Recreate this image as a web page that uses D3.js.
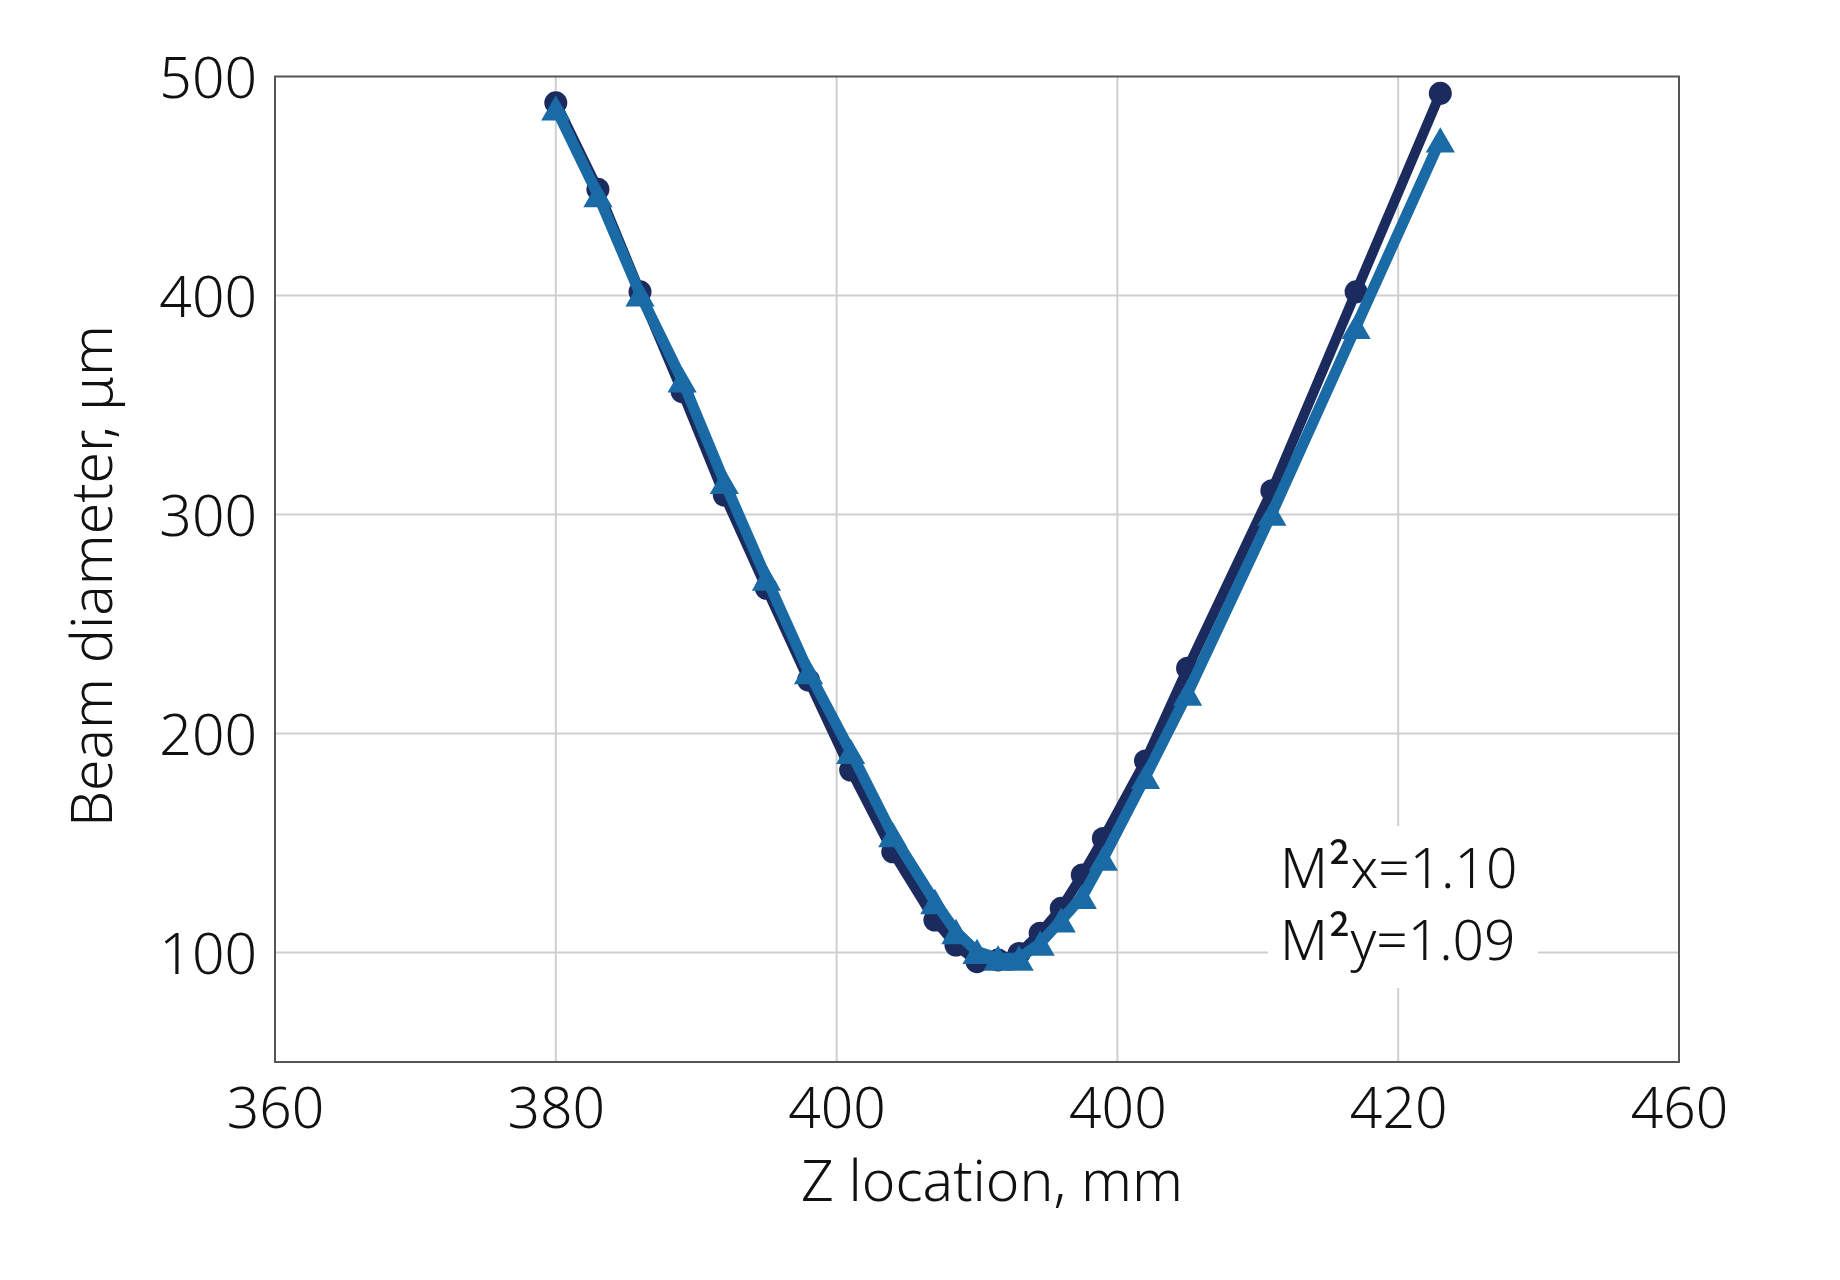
<!DOCTYPE html>
<html lang="en">
    <head>
        <meta charset="UTF-8" />
        <title>Beam diameter vs Z location</title>
        <script src="https://d3js.org/d3.v7.min.js"></script>
        <style>
            body {
                margin: 0;
                background: #fff;
            }
            text {
                font-family: "Noto Sans", "Open Sans", sans-serif;
                font-weight: 300;
                fill: #111;
            }
            .sup {
                font-family: "Noto Sans CJK SC", sans-serif;
                font-weight: 400;
            }
            .grid line {
                stroke: #cfcfcf;
                stroke-width: 2px;
            }
        </style>
    </head>
    <body>
        <svg width="1840" height="1280"></svg>

        <script>
            const width = 1840,
                height = 1280;

            // measured positions along the beam axis (mm)
            const zValues = [
                380, 383, 386, 389, 392, 395, 398, 401, 404, 407, 408.5, 410,
                411.5, 413, 414.5, 416, 417.5, 419, 422, 425, 431, 437, 443,
            ];

            // beam diameter in x (circles) and y (triangles), µm
            const diamX = [
                488.0, 448.5, 401.7, 356.1, 308.9, 266.3, 224.4, 183.3, 146.0,
                114.8, 103.4, 95.8, 96.6, 99.6, 108.8, 120.2, 135.4, 152.1,
                187.5, 229.8, 310.9, 401.7, 492.3,
            ];
            const diamY = [
                485.6, 446.0, 400.7, 361.4, 315.0, 270.9, 228.2, 191.7, 153.7,
                123.2, 109.5, 100.4, 97.4, 97.4, 104.2, 114.8, 125.5, 143.0,
                180.3, 218.4, 300.5, 385.8, 471.0,
            ];

            // tick labels as printed on the original chart
            const xTicks = [360, 380, 400, 420, 440, 460];
            const xTickLabels = ["360", "380", "400", "400", "420", "460"];
            const yTicks = [100, 200, 300, 400, 500];

            // M² note, split around the superscript
            const notes = [
                ["M", "²", "x=1.10"],
                ["M", "²", "y=1.09"],
            ];

            const margin = { left: 275, right: 161, top: 76.5, bottom: 218 };
            const plotW = width - margin.left - margin.right,
                plotH = height - margin.top - margin.bottom;

            const x = d3.scaleLinear().domain([360, 460]).range([0, plotW]);
            const y = d3.scaleLinear().domain([50, 500]).range([plotH, 0]);

            const svg = d3.select("svg");
            const g = svg
                .append("g")
                .attr("transform", `translate(${margin.left},${margin.top})`);

            // gridlines
            const grid = g.append("g").attr("class", "grid");
            grid.selectAll("line.v")
                .data(xTicks.slice(1, -1))
                .enter()
                .append("line")
                .attr("class", "v")
                .attr("x1", (d) => x(d))
                .attr("x2", (d) => x(d))
                .attr("y1", 0)
                .attr("y2", plotH);
            grid.selectAll("line.h")
                .data(yTicks.slice(0, -1))
                .enter()
                .append("line")
                .attr("class", "h")
                .attr("x1", 0)
                .attr("x2", plotW)
                .attr("y1", (d) => y(d))
                .attr("y2", (d) => y(d));

            // plot frame
            g.append("rect")
                .attr("width", plotW)
                .attr("height", plotH)
                .attr("fill", "none")
                .attr("stroke", "#555")
                .attr("stroke-width", 2);

            // axes (labels only, no tick marks)
            const xAxis = g
                .append("g")
                .attr("transform", `translate(0,${plotH})`)
                .call(
                    d3
                        .axisBottom(x)
                        .tickValues(xTicks)
                        .tickFormat((d, i) => xTickLabels[i])
                        .tickSize(0)
                        .tickPadding(0)
                );
            xAxis.select(".domain").remove();
            xAxis.selectAll("text")
                .attr("dy", null)
                .attr("y", 66)
                .style("font-size", "57px");

            const yAxis = g.append("g").call(
                d3.axisLeft(y).tickValues(yTicks).tickSize(0).tickPadding(0)
            );
            yAxis.select(".domain").remove();
            yAxis.selectAll("text")
                .attr("x", -18)
                .attr("dy", "0.36em")
                .style("font-size", "57px");

            // note box
            const note = g
                .append("g")
                .attr("transform", `translate(${1268 - margin.left},${826 - margin.top})`);
            note.append("rect")
                .attr("width", 270)
                .attr("height", 162)
                .attr("fill", "#fff");
            const noteText = note
                .selectAll("text")
                .data(notes)
                .enter()
                .append("text")
                .attr("x", 12)
                .attr("y", (d, i) => 62 + i * 72)
                .style("font-size", "55px");
            noteText.append("tspan").text((d) => d[0]);
            noteText.append("tspan").attr("class", "sup").text((d) => d[1]);
            noteText.append("tspan").text((d) => d[2]);

            const line = d3
                .line()
                .x((d) => x(d[0]))
                .y((d) => y(d[1]));

            const ptsX = zValues.map((z, i) => [z, diamX[i]]);
            const ptsY = zValues.map((z, i) => [z, diamY[i]]);

            // series x: dark navy, circles
            g.append("path")
                .datum(ptsX)
                .attr("d", line)
                .attr("fill", "none")
                .attr("stroke", "#1c2b5e")
                .attr("stroke-width", 10)
                .attr("stroke-linejoin", "round");
            g.append("g")
                .selectAll("circle")
                .data(ptsX)
                .enter()
                .append("circle")
                .attr("cx", (d) => x(d[0]))
                .attr("cy", (d) => y(d[1]))
                .attr("r", 11.5)
                .attr("fill", "#1c2b5e");

            // series y: blue, triangles
            g.append("path")
                .datum(ptsY)
                .attr("d", line)
                .attr("fill", "none")
                .attr("stroke", "#1a6aa5")
                .attr("stroke-width", 11)
                .attr("stroke-linejoin", "round");
            const tri = d3.symbol().type(d3.symbolTriangle).size(370);
            g.append("g")
                .selectAll("path")
                .data(ptsY)
                .enter()
                .append("path")
                .attr("d", tri)
                .attr("transform", (d) => `translate(${x(d[0])},${y(d[1]) + 4})`)
                .attr("fill", "#1a6aa5");

            // axis titles
            svg.append("text")
                .attr("x", 992)
                .attr("y", 1201)
                .attr("text-anchor", "middle")
                .style("font-size", "57px")
                .text("Z location, mm");
            svg.append("text")
                .attr("transform", "translate(112,576) rotate(-90)")
                .attr("text-anchor", "middle")
                .style("font-size", "57px")
                .text("Beam diameter, μm");
        </script>
    </body>
</html>
